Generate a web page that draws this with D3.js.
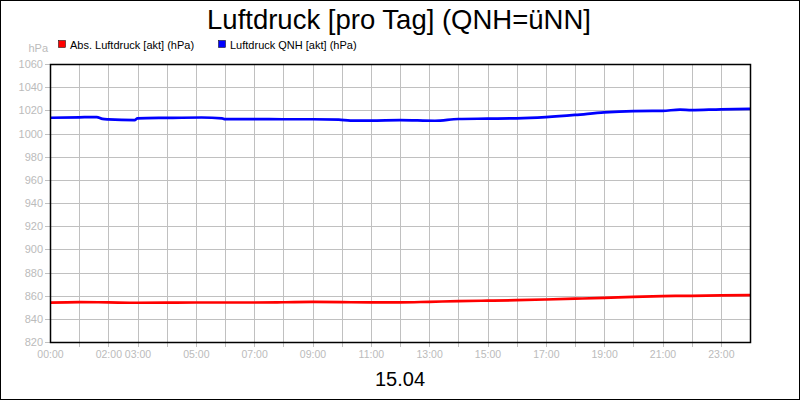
<!DOCTYPE html>
<html>
<head>
<meta charset="utf-8">
<script src="https://cdn.jsdelivr.net/npm/d3@7"></script>
<style>
  body { margin: 0; background: #fff; }
  svg { display: block; font-family: "Liberation Sans", Arial, sans-serif; }
</style>
</head>
<body>
<svg id="chart" width="800" height="400"></svg>
<script>
// hours since midnight and pressure (hPa)
const absHours = [0, 1, 2, 3, 4, 5, 6, 7, 8, 9, 10, 11, 12, 13, 14, 15, 16, 17, 18, 19, 20, 21, 22, 23, 24];
const absValues = [854.0, 854.5, 854.2, 853.9, 854.0, 854.1, 854.1, 854.1, 854.3, 854.6, 854.4, 854.2, 854.2, 854.7, 855.3, 855.7, 856.1, 856.7, 857.4, 858.1, 859.0, 859.6, 859.9, 860.2, 860.5];

const qnhHours = [0, 1, 1.6, 1.8, 2.0, 2.9, 3.0, 4, 5.2, 5.9, 6, 7, 8, 9, 9.9, 10.3, 11, 12, 13.2, 14, 15, 16, 17, 18, 19, 20, 21, 21.6, 22, 23, 24];
const qnhValues = [1013.6, 1014.0, 1014.2, 1012.6, 1012.2, 1011.6, 1013.1, 1013.5, 1013.8, 1013.1, 1012.4, 1012.4, 1012.3, 1012.3, 1012.0, 1011.2, 1011.2, 1011.5, 1011.0, 1012.5, 1012.8, 1013.1, 1014.2, 1016.0, 1018.3, 1019.4, 1019.6, 1020.6, 1020.2, 1020.9, 1021.2];

const yTicks = [820, 840, 860, 880, 900, 920, 940, 960, 980, 1000, 1020, 1040, 1060];
const xLabelHours = [0, 2, 3, 5, 7, 9, 11, 13, 15, 17, 19, 21, 23];
const seriesNames = ['Abs. Luftdruck [akt] (hPa)', 'Luftdruck QNH [akt] (hPa)'];
const seriesColors = ['#ff0000', '#0000ff'];

const svg = d3.select('#chart');
const margin = { top: 64, right: 50, bottom: 58, left: 50 };
const width = 800, height = 400;

const x = d3.scaleLinear().domain([0, 24]).range([margin.left, width - margin.right]);
const y = d3.scaleLinear().domain([820, 1060]).range([height - margin.bottom, margin.top]);

// outer frame
svg.append('rect')
    .attr('x', 0.5).attr('y', 0.5)
    .attr('width', width - 1).attr('height', height - 1)
    .attr('fill', '#fff').attr('stroke', '#000');

// title
svg.append('text')
    .attr('x', 399).attr('y', 29)
    .attr('text-anchor', 'middle')
    .attr('font-size', 27.5)
    .text('Luftdruck [pro Tag] (QNH=üNN]');

// legend
const legend = svg.append('g').selectAll('g')
    .data(seriesNames)
    .enter()
    .append('g')
    .attr('transform', (d, i) => `translate(${[58, 218][i]},40)`);
legend.append('rect')
    .attr('x', 0.5).attr('y', 0.5)
    .attr('width', 7).attr('height', 7)
    .attr('fill', (d, i) => seriesColors[i])
    .attr('stroke', '#000').attr('stroke-width', 0.5);
legend.append('text')
    .attr('x', 12).attr('y', 8.5)
    .attr('font-size', 11)
    .text(d => d);

// unit label
svg.append('text')
    .attr('x', 48).attr('y', 52)
    .attr('text-anchor', 'end')
    .attr('font-size', 11)
    .attr('fill', '#bbb')
    .text('hPa');

// grid
svg.append('g')
    .selectAll('line')
    .data(d3.range(1, 24))
    .enter()
    .append('line')
    .attr('x1', d => Math.round(x(d)) + 0.5).attr('x2', d => Math.round(x(d)) + 0.5)
    .attr('y1', margin.top).attr('y2', height - margin.bottom + 5)
    .attr('stroke', '#c0c0c0');

svg.append('g')
    .selectAll('line')
    .data(yTicks)
    .enter()
    .append('line')
    .attr('x1', margin.left - 5).attr('x2', width - margin.right)
    .attr('y1', d => Math.round(y(d)) + 0.5).attr('y2', d => Math.round(y(d)) + 0.5)
    .attr('stroke', '#c0c0c0');

// axes
const xAxis = svg.append('g')
    .attr('transform', `translate(0,${height - margin.bottom})`)
    .call(d3.axisBottom(x)
        .tickValues(xLabelHours)
        .tickSize(0)
        .tickPadding(9)
        .tickFormat(d => d3.format('02d')(d) + ':00'));
xAxis.select('.domain').remove();
xAxis.selectAll('text').attr('fill', '#bbb').attr('font-size', 10.5).attr('font-family', 'Liberation Sans, Arial, sans-serif');

const yAxis = svg.append('g')
    .attr('transform', `translate(${margin.left},0)`)
    .call(d3.axisLeft(y)
        .tickValues(yTicks)
        .tickSize(0)
        .tickPadding(7)
        .tickFormat(d3.format('d')));
yAxis.select('.domain').remove();
yAxis.selectAll('text').attr('fill', '#bbb').attr('font-size', 11).attr('font-family', 'Liberation Sans, Arial, sans-serif');

// lines
const line = d3.line()
    .x(d => x(d[0]))
    .y(d => y(d[1]))
    .curve(d3.curveMonotoneX);

const series = [
    d3.zip(absHours, absValues),
    d3.zip(qnhHours, qnhValues)
];

svg.append('g')
    .selectAll('path')
    .data(series)
    .enter()
    .append('path')
    .attr('d', line)
    .attr('fill', 'none')
    .attr('stroke', (d, i) => seriesColors[i])
    .attr('stroke-width', 2.7)
    .attr('stroke-linejoin', 'round');

// plot frame
svg.append('rect')
    .attr('x', margin.left + 0.5).attr('y', margin.top + 0.5)
    .attr('width', width - margin.left - margin.right)
    .attr('height', height - margin.top - margin.bottom)
    .attr('fill', 'none')
    .attr('stroke', '#000')
    .attr('stroke-width', 1.5);

// date label
svg.append('text')
    .attr('x', 400).attr('y', 386)
    .attr('text-anchor', 'middle')
    .attr('font-size', 20)
    .text('15.04');
</script>
</body>
</html>
